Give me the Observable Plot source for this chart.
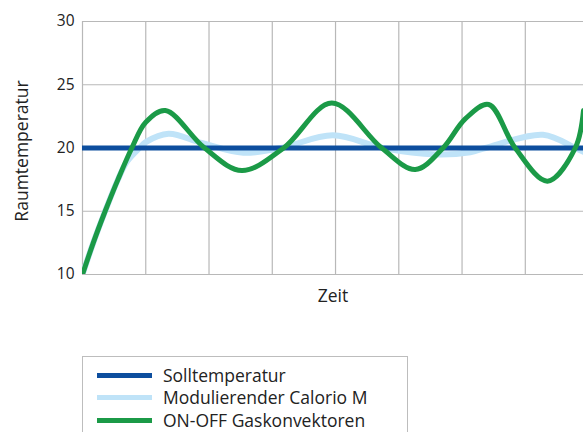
<!DOCTYPE html>
<html>
<head>
<meta charset="utf-8">
<script src="https://cdn.jsdelivr.net/npm/d3@7"></script>
<script src="https://cdn.jsdelivr.net/npm/@observablehq/plot@0.6"></script>
<style>
  html, body { margin: 0; padding: 0; background: #fff; overflow: hidden; }
  body { width: 583px; height: 432px; position: relative; font-family: "Open Sans", sans-serif; color: #222; }
  #chart { position: absolute; left: 0; top: 0; }
  #legend { position: absolute; left: 82px; top: 356px; width: 326px; height: 100px;
            border: 1px solid #bdbdbd; box-sizing: border-box; }
  .item { position: absolute; left: 0; height: 23px; display: flex; align-items: center; }
  .sw { width: 55px; height: 5px; margin-left: 14px; margin-right: 11px; }
  .lbl { font-size: 17.5px; line-height: 23px; white-space: nowrap; }
</style>
</head>
<body>
<div id="chart"></div>
<div id="legend"></div>
<script>
// Series names and colours
const seriesNames = ["Solltemperatur", "Modulierender Calorio M", "ON-OFF Gaskonvektoren"];
const seriesColors = ["#0d4e9e", "#bfe3f8", "#1b9a47"];

// Set temperature
const sollValue = 20;

// Modulierender Calorio M (time, temperature)
const calorioX = [0, 0.17, 0.35, 0.56, 0.7, 0.9, 1.0, 1.36, 1.88, 2.54, 3.13, 3.96, 4.75, 5.58, 6.13, 6.37, 7.28, 7.79, 7.92];
const calorioY = [10, 12.5, 14.9, 17.5, 18.9, 20.0, 20.46, 21.12, 20.4, 19.62, 20.0, 21.0, 20.0, 19.49, 19.67, 20.0, 21.05, 20.0, 19.7];

// ON-OFF Gaskonvektoren (time, temperature)
const onoffX = [0, 0.17, 0.35, 0.56, 0.78, 1.0, 1.31, 1.93, 2.52, 3.18, 3.94, 4.73, 5.26, 5.70, 6.05, 6.42, 6.84, 7.35, 7.79, 7.92];
const onoffY = [10, 12.5, 14.9, 17.5, 20.0, 22.04, 22.96, 20.0, 18.22, 20.0, 23.55, 20.0, 18.3, 20.0, 22.3, 23.44, 20.0, 17.38, 20.0, 22.96];

// Axis ticks
const yTicks = [10, 15, 20, 25, 30];
const xGrid = [0, 1, 2, 3, 4, 5, 6, 7];

const calorio = calorioX.map((x, i) => ({x, y: calorioY[i]}));
const onoff = onoffX.map((x, i) => ({x, y: onoffY[i]}));

const plot = Plot.plot({
  width: 583,
  height: 330,
  marginLeft: 82,
  marginRight: 0,
  marginTop: 21,
  marginBottom: 56,
  style: {fontFamily: "Open Sans, sans-serif", color: "#222", background: "#fff", overflow: "hidden"},
  x: {domain: [0, 7.92], axis: null},
  y: {domain: [10, 30], axis: null},
  marks: [
    Plot.gridX(xGrid, {stroke: "#b8b8b8", strokeOpacity: 1, strokeWidth: 1.2}),
    Plot.gridY(yTicks, {stroke: "#b8b8b8", strokeOpacity: 1, strokeWidth: 1.2}),
    Plot.axisY(yTicks, {tickSize: 0, tickPadding: 8, fontSize: 15.5, label: null, fill: "#222"}),
    Plot.line(calorio, {x: "x", y: "y", stroke: seriesColors[1], strokeWidth: 6, curve: "catmull-rom", clip: true}),
    Plot.ruleY([sollValue], {stroke: seriesColors[0], strokeWidth: 5}),
    Plot.line(onoff, {x: "x", y: "y", stroke: seriesColors[2], strokeWidth: 5, curve: "catmull-rom", clip: true}),
    Plot.text(["Zeit"], {frameAnchor: "bottom", dy: 27, fontSize: 17.5, fill: "#222", text: d => d}),
    Plot.text(["Raumtemperatur"], {frameAnchor: "left", dx: -60, dy: 3, rotate: -90, textAnchor: "middle", fontSize: 17.5, fill: "#222", text: d => d})
  ]
});
document.getElementById("chart").appendChild(plot);

const legend = document.getElementById("legend");
const rowTops = [7, 29, 52];
seriesNames.forEach((name, i) => {
  const item = document.createElement("div");
  item.className = "item";
  item.style.top = rowTops[i] + "px";
  const sw = document.createElement("div");
  sw.className = "sw";
  sw.style.background = seriesColors[i];
  const lbl = document.createElement("span");
  lbl.className = "lbl";
  lbl.textContent = name;
  item.appendChild(sw);
  item.appendChild(lbl);
  legend.appendChild(item);
});
</script>
</body>
</html>
